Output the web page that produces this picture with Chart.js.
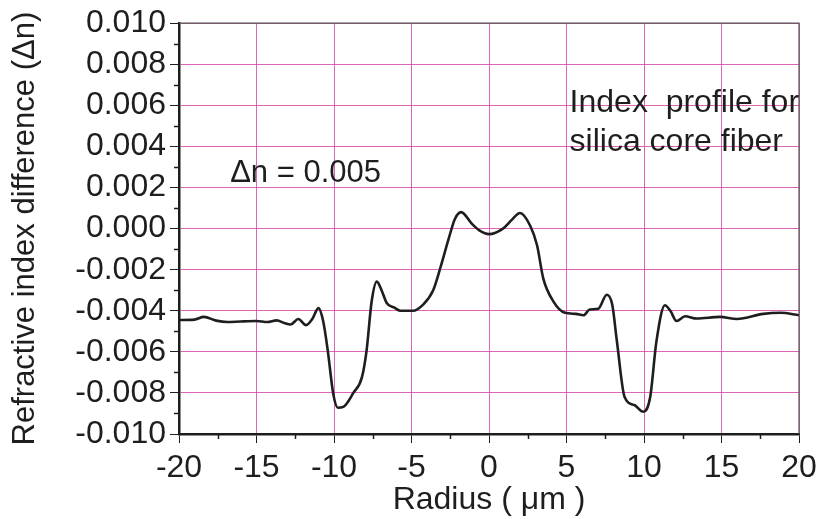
<!DOCTYPE html>
<html>
<head>
<meta charset="utf-8">
<script src="https://cdn.jsdelivr.net/npm/chart.js@4.4.1/dist/chart.umd.min.js"></script>
<style>
  html, body { margin: 0; padding: 0; background: #ffffff; }
  #wrap { width: 825px; height: 519px; }
</style>
</head>
<body>
<div id="wrap"><canvas id="profile" width="825" height="519"></canvas></div>
<script>
// radius in micrometres
const radius = [-20, -19, -18.4, -17.6, -16.9, -16, -15, -14.3, -13.7, -13.2, -12.8, -12.3, -11.8, -11.4, -11.0,
    -10.7, -10.4, -10.05, -9.75, -9.4, -8.75, -8.2, -7.9, -7.57, -7.24, -6.9, -6.6, -6.1, -5.7, -4.9,
    -4.25, -3.6, -3.15, -2.6, -2.2, -1.8, -1.1, -0.6, 0.0, 0.9, 1.5, 2.0, 2.65, 3.1, 3.5, 4.15, 4.9,
    5.6, 6.1, 6.5, 7.05, 7.6, 7.95, 8.25, 8.75, 9.4, 9.95, 10.4, 10.8, 11.35, 11.7, 12.1, 12.65,
    13.4, 14.9, 16, 17.7, 18.8, 20];
// refractive index difference
const deltaN = [-0.00445, -0.00443, -0.00430, -0.00448, -0.00455, -0.00452, -0.00450, -0.00455, -0.00447, -0.00460, -0.00467, -0.00440, -0.00470, -0.00440, -0.00387,
    -0.00450, -0.00595, -0.00804, -0.00872, -0.00868, -0.00800, -0.00724, -0.00595, -0.00354, -0.00258, -0.00306, -0.00362, -0.00385, -0.00400, -0.00400,
    -0.00370, -0.00300, -0.00194, -0.00049, 0.00047, 0.00080, 0.00023, -0.00010, -0.00027, 0.00000, 0.00045, 0.00076, 0.00015, -0.00081, -0.00242, -0.00354, -0.00410,
    -0.00415, -0.00422, -0.00394, -0.00390, -0.00322, -0.00370, -0.00547, -0.00820, -0.00860, -0.00892, -0.00820, -0.00550, -0.00373, -0.00400, -0.00450, -0.00427,
    -0.00438, -0.00430, -0.00440, -0.00415, -0.00410, -0.00422];

const xTicks = [-20, -15, -10, -5, 0, 5, 10, 15, 20];
const yTicks = [-0.010, -0.008, -0.006, -0.004, -0.002, 0.000, 0.002, 0.004, 0.006, 0.008, 0.010];

// text notes placed in data units
const noteDelta = { x: -16.7, y: 0.0027, size: 31, lines: ['\u0394n = 0.005'] };
const noteTitle = { x: 5.2, y: 0.0061, size: 32, lines: ['Index  profile for', 'silica core fiber'] };

const FONT = '"Liberation Sans", Arial, sans-serif';
const INK = '#1e1e1e';
const GRID = 'rgba(214, 62, 165, 0.8)';

const points = radius.map(function (r, i) { return { x: r, y: deltaN[i] }; });

// frame, minor ticks and the two text notes
const extras = {
    id: 'extras',
    afterDraw: function (chart) {
        const ctx = chart.ctx;
        const a = chart.chartArea;
        const xs = chart.scales.x;
        const ys = chart.scales.y;
        ctx.save();
        // thin top / right frame
        ctx.strokeStyle = '#555';
        ctx.lineWidth = 1.2;
        ctx.beginPath();
        ctx.moveTo(a.left, a.top);
        ctx.lineTo(a.right, a.top);
        ctx.lineTo(a.right, a.bottom);
        ctx.stroke();
        // minor ticks
        ctx.strokeStyle = INK;
        ctx.lineWidth = 1.5;
        ctx.beginPath();
        for (let v = -0.009; v < 0.0095; v += 0.002) {
            const py = Math.round(ys.getPixelForValue(v)) + 0.5;
            ctx.moveTo(a.left - 5, py);
            ctx.lineTo(a.left, py);
        }
        for (let v = -17.5; v < 20; v += 5) {
            const px = Math.round(xs.getPixelForValue(v)) + 0.5;
            ctx.moveTo(px, a.bottom);
            ctx.lineTo(px, a.bottom + 5);
        }
        ctx.stroke();
        // notes
        ctx.fillStyle = INK;
        ctx.textBaseline = 'middle';
        ctx.textAlign = 'left';
        [noteDelta, noteTitle].forEach(function (n) {
            ctx.font = n.size + 'px ' + FONT;
            const px = xs.getPixelForValue(n.x);
            const py = ys.getPixelForValue(n.y);
            n.lines.forEach(function (t, i) {
                ctx.fillText(t, px, py + i * 39);
            });
        });
        ctx.restore();
    }
};

const ctx = document.getElementById('profile').getContext('2d');
new Chart(ctx, {
    type: 'line',
    data: {
        datasets: [{
            label: 'Index profile',
            data: points,
            borderColor: INK,
            borderWidth: 2.6,
            pointRadius: 0,
            fill: false,
            cubicInterpolationMode: 'monotone'
        }]
    },
    options: {
        responsive: false,
        animation: false,
        layout: { padding: { left: 7, top: 19, right: 26, bottom: 0 } },
        plugins: {
            legend: { display: false },
            tooltip: { enabled: false }
        },
        scales: {
            x: {
                type: 'linear',
                min: -20,
                max: 20,
                afterBuildTicks: function (scale) {
                    scale.ticks = xTicks.map(function (v) { return { value: v }; });
                },
                afterFit: function (scale) { scale.height = 85; },
                ticks: {
                    color: INK,
                    font: { family: FONT, size: 32 },
                    padding: 6,
                    maxRotation: 0,
                    autoSkip: false
                },
                grid: {
                    color: GRID,
                    lineWidth: 1,
                    tickColor: INK,
                    tickLength: 9
                },
                border: { color: INK, width: 2.5 },
                title: {
                    display: true,
                    text: 'Radius ( \u03bcm )',
                    color: INK,
                    font: { family: FONT, size: 32 },
                    padding: { top: 0, bottom: 0 }
                }
            },
            y: {
                type: 'linear',
                min: -0.010,
                max: 0.010,
                afterBuildTicks: function (scale) {
                    scale.ticks = yTicks.map(function (v) { return { value: v }; });
                },
                afterFit: function (scale) { scale.width = 172; },
                ticks: {
                    color: INK,
                    font: { family: FONT, size: 32 },
                    padding: 4,
                    autoSkip: false,
                    callback: function (v) {
                        if (Math.abs(v) < 1e-9) return '0.000';
                        return v.toFixed(3);
                    }
                },
                grid: {
                    color: GRID,
                    lineWidth: 1,
                    tickColor: INK,
                    tickLength: 9
                },
                border: { color: INK, width: 2.5 },
                title: {
                    display: true,
                    text: 'Refractive index difference (\u0394n)',
                    color: INK,
                    font: { family: FONT, size: 31 },
                    padding: { top: 0, bottom: 0 }
                }
            }
        }
    },
    plugins: [extras]
});
</script>
</body>
</html>
